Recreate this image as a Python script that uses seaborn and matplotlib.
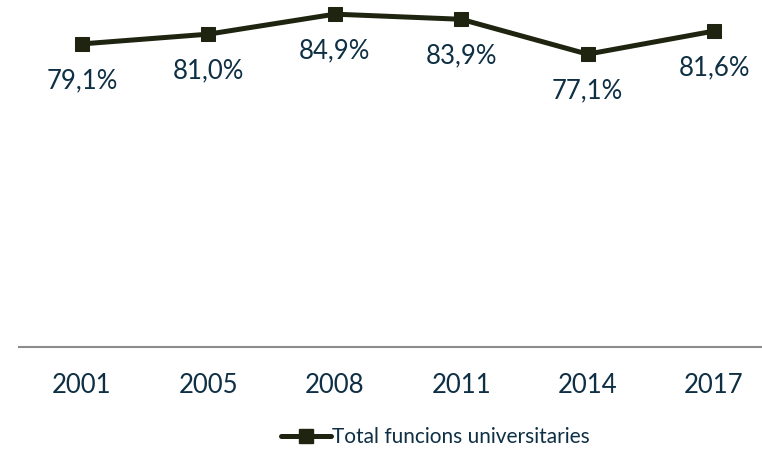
import matplotlib
matplotlib.use("Agg")
import matplotlib.pyplot as plt
import seaborn as sns
import pandas as pd

years = ["2001", "2005", "2008", "2011", "2014", "2017"]
values = [79.1, 81.0, 84.9, 83.9, 77.1, 81.6]
labels = ["79,1%", "81,0%", "84,9%", "83,9%", "77,1%", "81,6%"]
series_name = "Total funcions universitaries"

sns.set_theme(style="white")
plt.rcParams["font.family"] = ["Lato", "DejaVu Sans"]

LINE_C = "#1f2410"
TEXT_C = "#0e2f44"

df = pd.DataFrame({"year": years, "value": values, "serie": series_name})

fig = plt.figure(figsize=(7.62, 4.57), dpi=100)
ax = fig.add_axes([18.8 / 762, 110 / 457, 758.4 / 762, 359 / 457])

sns.lineplot(data=df, x="year", y="value", hue="serie", palette=[LINE_C],
             marker="s", markersize=10, markeredgecolor=LINE_C,
             linewidth=3.6, ax=ax, legend=False, sort=False)

ax.set_xlim(-0.5, 5.5)
ax.set_ylim(20, 90)
ax.set_xlabel("")
ax.set_ylabel("")
ax.set_yticks([])
for s in ["top", "right", "left"]:
    ax.spines[s].set_visible(False)
ax.spines["bottom"].set_color("#8c8c8c")
ax.spines["bottom"].set_linewidth(1.5)
ax.tick_params(axis="x", length=0, pad=19, labelsize=18.5, labelcolor=TEXT_C)

for i, (v, t) in enumerate(zip(values, labels)):
    ax.annotate(t, (i, v), xytext=(0, -26.6), textcoords="offset points",
                ha="center", va="center", fontsize=18.5, color=TEXT_C)

from matplotlib.lines import Line2D
h = Line2D([], [], color=LINE_C, lw=3.6, marker="s", markersize=10)
leg = fig.legend([h], [series_name], loc="center", bbox_to_anchor=(435 / 762, 1 - 437 / 457),
                 frameon=False, fontsize=15, handlelength=2.4, handletextpad=0.05,
                 labelcolor=TEXT_C)

fig.savefig("out.png", dpi=100)
